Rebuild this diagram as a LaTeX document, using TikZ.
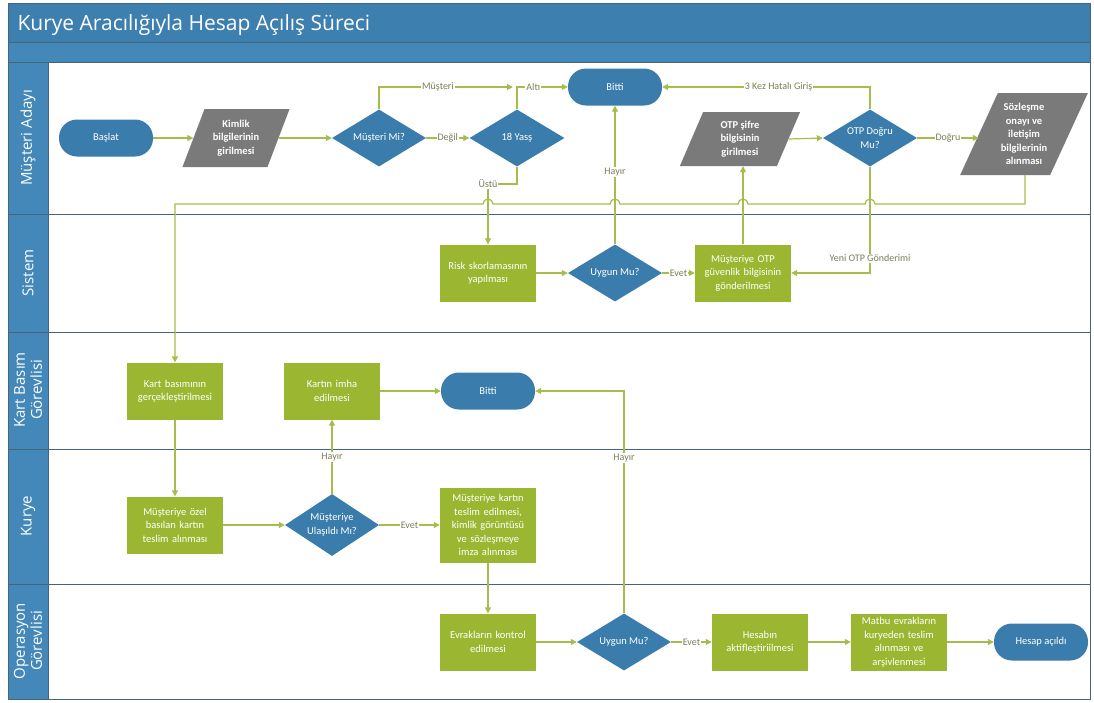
\documentclass[tikz,border=0pt]{standalone}
\usepackage{fontspec}
\setmainfont{Open Sans}
\newfontfamily\boxfamily{Carlito}
\usetikzlibrary{shapes.geometric,arrows.meta,calc}

\definecolor{hdrblue}{RGB}{61,128,175}
\definecolor{bandblue}{RGB}{67,136,184}
\definecolor{nodeblue}{RGB}{58,125,173}
\definecolor{procgreen}{RGB}{155,183,50}
\definecolor{iogray}{RGB}{122,122,122}
\definecolor{flowgreen}{RGB}{165,190,75}
\definecolor{lbltext}{RGB}{125,125,85}
\definecolor{laneline}{RGB}{70,100,125}

\begin{document}
\begin{tikzpicture}[x=1pt,y=-1pt,
  nodefont/.style={font=\boxfamily\fontsize{10.5}{13.5}\selectfont},
  term/.style={rectangle, rounded corners=18pt, fill=nodeblue, text=white,
    minimum width=94pt, minimum height=37pt, nodefont},
  proc/.style={rectangle, fill=procgreen, text=white, minimum width=96pt,
    minimum height=57pt, text width=94pt, align=center, inner sep=1pt, nodefont},
  dec/.style={diamond, fill=nodeblue, minimum width=94pt, minimum height=57pt,
    inner sep=0pt},
  dtext/.style={text=white, align=center, nodefont},
  io/.style={rectangle, fill=iogray, minimum height=57pt, inner sep=0pt},
  iotext/.style={text=white, align=center, font=\boxfamily\bfseries\fontsize{10.5}{13.5}\selectfont},
  conn/.style={draw=flowgreen, line width=1.2pt, -{Triangle[length=6pt,width=6pt]}},
  lbl/.style={font=\boxfamily\fontsize{10}{12}\selectfont, text=lbltext, fill=white, inner sep=1pt},
  lanetext/.style={text=white, rotate=90, align=center, font=\fontsize{15}{17}\selectfont}
]
\useasboundingbox (0,0) rectangle (1094,702);

% frame, title bar and lane headers
\fill[white] (8,3) rectangle (1090,699);
\fill[hdrblue] (8,3) rectangle (1090,42);
\fill[bandblue] (8,42) rectangle (1090,62);
\fill[bandblue] (8,62) rectangle (48,699);
\draw[laneline, line width=1pt] (8,3) rectangle (1090,699);
\foreach \yy in {42,62,214,332,449,584}
  \draw[laneline, line width=1pt] (8,\yy) -- (1090,\yy);
\draw[laneline, line width=1pt] (48,62) -- (48,699);

\node[anchor=base west, text=white, font=\fontsize{21}{24}\selectfont] (title) at (14,30) {Kurye Aracılığıyla Hesap Açılış Süreci};

\node[lanetext] (lane1) at (28,138) {Müşteri Adayı};
\node[lanetext] (lane2) at (28,273) {Sistem};
\node[lanetext] (lane3) at (28,390) {Kart Basım\\Görevlisi};
\node[lanetext] (lane4) at (28,516) {Kurye};
\node[lanetext] (lane5) at (28,641) {Operasyon\\Görevlisi};

% Müşteri Adayı lane
\node[term] (start) at (106,138) {Başlat};
\node[io, minimum width=85pt, minimum height=58pt, xslant=0.38,
  label={[iotext]center:Kimlik\\bilgilerinin\\girilmesi}] (kim) at (236,138) {};
\node[dec, label={[dtext]center:Müşteri Mi?}] (mm) at (379,138) {};
\node[dec, minimum width=95pt, label={[dtext]center:18 Yasş}] (y18) at (517,138) {};
\node[term] (bit1) at (615,87) {Bitti};
\node[io, minimum width=97pt, minimum height=54pt, xslant=0.43,
  label={[iotext]center:OTP şifre\\bilgisinin\\girilmesi}] (otp) at (740,139) {};
\node[dec, label={[dtext]center:OTP Doğru\\Mu?}] (od) at (870,138) {};
\node[io, minimum width=90pt, minimum height=82pt, xslant=0.46,
  label={[iotext]center:Sözleşme\\onayı ve\\iletişim\\bilgilerinin\\alınması}] (soz) at (1024,134) {};

% Sistem lane
\node[proc] (risk) at (488,273) {Risk skorlamasının\\yapılması};
\node[dec, label={[dtext]center:Uygun Mu?}] (us) at (615,273) {};
\node[proc] (mot) at (743,273) {Müşteriye OTP\\güvenlik bilgisinin\\gönderilmesi};

% Kart Basım Görevlisi lane
\node[proc] (kart) at (175,391) {Kart basımının\\gerçekleştirilmesi};
\node[proc] (imha) at (332,391) {Kartın imha\\edilmesi};
\node[term] (bit2) at (488,391) {Bitti};

% Kurye lane
\node[proc] (ozel) at (175,525) {Müşteriye özel\\basılan kartın\\teslim alınması};
\node[dec, minimum height=62pt, label={[dtext]center:Müşteriye\\Ulaşıldı Mı?}] (ul) at (332,525) {};
\node[proc, minimum height=75pt] (teslim) at (488,525) {Müşteriye kartın\\teslim edilmesi,\\kimlik görüntüsü\\ve sözleşmeye\\imza alınması};

% Operasyon Görevlisi lane
\node[proc] (evrak) at (488,642) {Evrakların kontrol\\edilmesi};
\node[dec, label={[dtext]center:Uygun Mu?}] (uo) at (624,642) {};
\node[proc] (hes) at (760,642) {Hesabın\\aktifleştiriilmesi};
\node[proc] (mat) at (899,642) {Matbu evrakların\\kuryeden teslim\\alınması ve\\arşivlenmesi};
\node[term] (acil) at (1041,642) {Hesap açıldı};

% connectors
\draw[conn] (start) -- (kim);
\draw[conn] (kim) -- (mm);
\draw[conn] (mm) -- node[lbl]{Değil} (y18);
\coordinate (mjoin) at (513,87);
\draw[conn] (mm.north) |- node[lbl, pos=0.72]{Müşteri} (mjoin);
\draw[conn] (y18.north) |- node[lbl, pos=0.66]{Altı} (bit1.west);
\coordinate (ustu) at (488,184);
\draw[conn] (y18.south) |- (ustu) -- (risk.north);
\node[lbl] (ustulbl) at (ustu) {Üstü};
\draw[conn] (risk) -- (us);
\draw[conn] (us.north) -- node[lbl, pos=0.52]{Hayır} (bit1.south);
\draw[conn] (us) -- node[lbl]{Evet} (mot);
\draw[conn] (mot.north) -- (mot.north |- otp.south);
\draw[conn] (otp.east) -- (od.west);
\draw[conn] (od.north) |- node[lbl, pos=0.72]{3 Kez Hatalı Giriş} (bit1.east);
\draw[conn] (od.east) -- node[lbl]{Doğru} (od.east -| soz.west);
\draw[conn] (od.south) |- node[lbl, pos=0.43]{Yeni OTP Gönderimi} (mot.east);

% long return line with jumps over crossing lines
\coordinate (sozb) at ($(soz.south west)!0.72!(soz.south east)$);
\draw[conn] (sozb) -- (sozb |- 0,204)
  -- (875,204) arc[start angle=0, end angle=-180, radius=5]
  -- (748,204) arc[start angle=0, end angle=-180, radius=5]
  -- (620,204) arc[start angle=0, end angle=-180, radius=5]
  -- (493,204) arc[start angle=0, end angle=-180, radius=5]
  -- (kart.north |- 0,204) -- (kart.north);

\draw[conn] (kart) -- (ozel);
\draw[conn] (ozel) -- (ul);
\draw[conn] (ul) -- node[lbl]{Hayır} (imha);
\draw[conn] (ul) -- node[lbl]{Evet} (teslim);
\draw[conn] (imha) -- (bit2);
\draw[conn] (teslim) -- (evrak);
\draw[conn] (evrak) -- (uo);
\draw[conn] (uo.north) |- node[lbl, pos=0.35]{Hayır} (bit2.east);
\draw[conn] (uo) -- node[lbl]{Evet} (hes);
\draw[conn] (hes) -- (mat);
\draw[conn] (mat) -- (acil);
\end{tikzpicture}
\end{document}
